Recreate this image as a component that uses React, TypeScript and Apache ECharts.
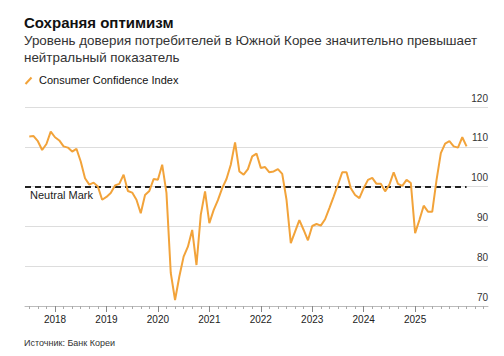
import React, { useEffect, useRef } from "react";
import * as echarts from "echarts";

// Consumer Confidence Index, monthly values (Jun 2017 – Dec 2025)
const v2017 = [112.6, 112.7, 111.4, 109.2, 110.7, 113.8, 112.4];
const v2018 = [111.6, 110.1, 109.8, 108.8, 109.5, 106.3, 102.1, 100.5, 101.0, 100.0, 96.7, 97.4];
const v2019 = [98.4, 100.3, 100.7, 103.0, 98.9, 98.5, 96.7, 93.3, 97.9, 98.9, 101.9, 101.7];
const v2020 = [105.5, 98.4, 78.3, 71.5, 77.4, 82.4, 84.9, 89.1, 80.3, 92.9, 98.8, 90.8];
const v2021 = [94.1, 96.6, 99.6, 101.9, 105.5, 111.1, 103.8, 103.0, 104.4, 107.6, 108.3, 104.7];
const v2022 = [104.9, 103.6, 103.8, 104.4, 103.2, 96.7, 85.8, 88.7, 91.6, 89.1, 86.5, 90.1];
const v2023 = [90.6, 90.2, 91.8, 94.6, 97.5, 100.5, 103.6, 103.6, 99.6, 97.9, 97.1, 99.6];
const v2024 = [101.7, 102.2, 100.7, 100.7, 98.8, 100.5, 103.6, 100.7, 100.2, 101.7, 100.9, 88.3];
const v2025 = [91.6, 95.2, 93.7, 93.7, 101.7, 108.4, 110.8, 111.4, 110.1, 109.8, 112.4, 110.1];

const yearLabels = ["2018", "2019", "2020", "2021", "2022", "2023", "2024", "2025"];
const yTicks = [70, 80, 90, 100, 110, 120];
const neutralValue = 100;

const TITLE = "Сохраняя оптимизм";
const SUB1 = "Уровень доверия потребителей в Южной Корее значительно превышает";
const SUB2 = "нейтральный показатель";
const LEGEND = "Consumer Confidence Index";
const SOURCE = "Источник: Банк Кореи";
const NEUTRAL = "Neutral Mark";

// axis categories: first day of each month, Jun 2017 .. Jun 2026
const startYear = 2017;
const startMonth = 6;
const monthCount = 109;

const FONT = "Liberation Sans, Arial, Helvetica, sans-serif";
const ORANGE = "#F2A33A";

export default function App() {
  const ref = useRef<HTMLDivElement>(null);

  useEffect(() => {
    if (!ref.current) return;
    const chart = echarts.init(ref.current, undefined, { renderer: "svg" });

    const categories: string[] = [];
    for (let i = 0; i < monthCount; i++) {
      const m0 = startMonth - 1 + i;
      const y = startYear + Math.floor(m0 / 12);
      const m = (m0 % 12) + 1;
      categories.push(`${y}-${m < 10 ? "0" + m : m}`);
    }
    const values = [...v2017, ...v2018, ...v2019, ...v2020, ...v2021, ...v2022, ...v2023, ...v2024, ...v2025];
    // each monthly value is plotted at the end of its month (= start of next month)
    const seriesData = values.map((v, i) => [i + 1, v]);
    const lastIndex = values.length;

    const isMinor = (i: number) => i % 2 === 1;
    const isMajor = (i: number) =>
      categories[i] !== undefined &&
      categories[i].endsWith("-01") &&
      yearLabels.indexOf(categories[i].slice(0, 4)) >= 0;

    chart.setOption({
      animation: false,
      backgroundColor: "#ffffff",
      textStyle: { fontFamily: FONT },
      grid: { left: 25, right: 16, top: 107, bottom: 50, containLabel: false },
      xAxis: [
        {
          type: "category",
          position: "bottom",
          data: categories,
          boundaryGap: false,
          axisLine: { show: true, lineStyle: { color: "#bbbbbb", width: 1 } },
          axisTick: { show: true, interval: (i: number) => isMinor(i), length: 3, lineStyle: { color: "#aaaaaa" } },
          axisLabel: { show: false },
          splitLine: { show: false },
        },
        {
          type: "category",
          position: "bottom",
          data: categories,
          boundaryGap: false,
          axisLine: { show: false },
          axisTick: { show: true, interval: (i: number) => isMajor(i), length: 6, lineStyle: { color: "#888888" } },
          axisLabel: {
            show: true,
            interval: (i: number) => isMajor(i),
            formatter: (val: string) => val.slice(0, 4),
            fontSize: 10,
            color: "#222222",
            margin: 8,
            fontFamily: FONT,
          },
          splitLine: { show: false },
        },
      ],
      yAxis: {
        type: "value",
        position: "right",
        min: yTicks[0],
        max: yTicks[yTicks.length - 1],
        interval: 10,
        axisLine: { show: false },
        axisTick: { show: false },
        splitLine: { show: true, lineStyle: { color: "#dddddd", width: 1 } },
        axisLabel: {
          inside: true,
          margin: 0,
          align: "right",
          verticalAlign: "bottom",
          lineHeight: 10,
          padding: [0, 0, 4, 0],
          fontSize: 10,
          color: "#333333",
          fontFamily: FONT,
        },
      },
      series: [
        {
          type: "line",
          xAxisIndex: 0,
          data: seriesData,
          symbol: "none",
          lineStyle: { color: ORANGE, width: 2 },
          itemStyle: { color: ORANGE },
          z: 3,
          markLine: {
            silent: true,
            symbol: ["none", "none"],
            lineStyle: { color: "#222222", width: 2, type: [6, 4] },
            label: {
              show: true,
              position: "insideStartBottom",
              formatter: NEUTRAL,
              fontSize: 11,
              color: "#222222",
              fontFamily: FONT,
              distance: [5, 3],
            },
            data: [[{ coord: [0, neutralValue] }, { coord: [lastIndex, neutralValue] }]],
            z: 2,
          },
        },
      ],
      graphic: [
        {
          type: "text",
          left: 24,
          top: 15,
          style: { text: TITLE, font: `bold 15px ${FONT}`, fill: "#111111" },
        },
        {
          type: "text",
          left: 24,
          top: 34,
          style: { text: SUB1, font: `13.4px ${FONT}`, fill: "#333333" },
        },
        {
          type: "text",
          left: 24,
          top: 51,
          style: { text: SUB2, font: `13.4px ${FONT}`, fill: "#333333" },
        },
        {
          type: "line",
          shape: { x1: 25.5, y1: 84, x2: 31.5, y2: 77.5 },
          style: { stroke: ORANGE, lineWidth: 2 },
        },
        {
          type: "text",
          left: 39,
          top: 74,
          style: { text: LEGEND, font: `11px ${FONT}`, fill: "#111111" },
        },
        {
          type: "text",
          left: 24,
          top: 338,
          style: { text: SOURCE, font: `9px ${FONT}`, fill: "#333333" },
        },
      ],
    });

    return () => chart.dispose();
  }, []);

  return (
    <div
      ref={ref}
      style={{ position: "fixed", left: 0, top: 0, width: 504, height: 356, background: "#fff" }}
    />
  );
}
